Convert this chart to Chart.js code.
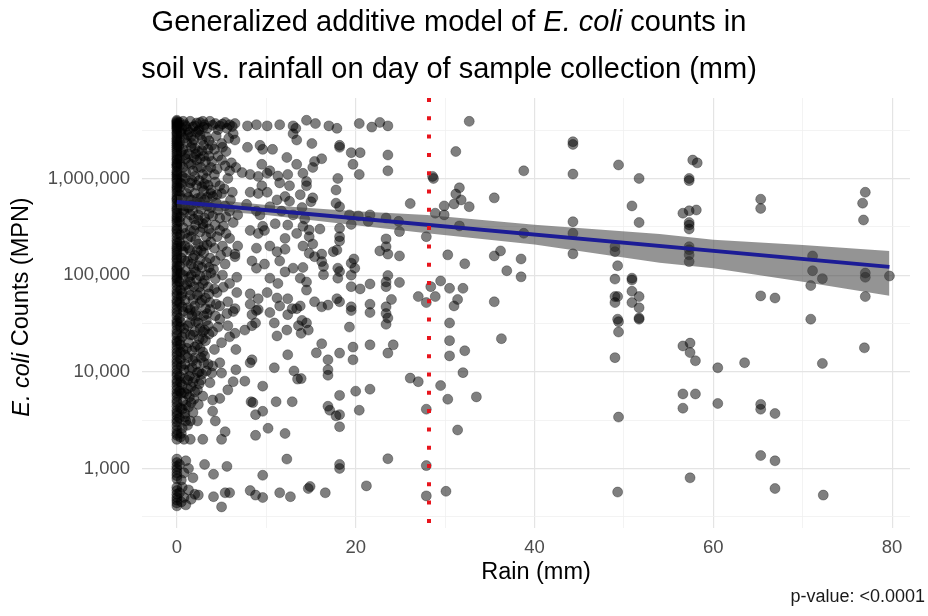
<!DOCTYPE html>
<html lang="en">
<head>
<meta charset="UTF-8">
<title>E. coli counts vs rainfall</title>
<script src="https://cdn.jsdelivr.net/npm/chart.js@4"></script>
<style>
  html, body { margin: 0; padding: 0; background: #fff; }
  #wrap { width: 928px; height: 616px; }
</style>
</head>
<body>
<div id="wrap"><canvas id="chart" width="928" height="616"></canvas></div>
<script>
// axis ticks
const xTicks = [0, 20, 40, 60, 80];
const xMinorTicks = [10, 30, 50, 70];
const yTicks = [1000, 10000, 100000, 1000000];
const yMinorTicks = [316, 3162, 31623, 316228, 3162278];

// rainfall threshold (dotted red line)
const rainThreshold = 28.2;

// fitted trend and its confidence band
const fitRain = [0, 79.7];
const fitCounts = [571000, 121700];
const bandRain = [0, 10, 20, 28, 40, 54, 60, 70, 79.7];
const bandUpper = [660000, 531000, 458000, 419000, 333000, 267000, 232000, 205000, 178000];
const bandLower = [495000, 418000, 328000, 271000, 207000, 134000, 118000, 85600, 61300];

// samples with no rain (E. coli MPN)
const dryDayCounts = [4.0e6, 3.9e6, 3.8e6, 3.7e6, 3.6e6, 3.5e6, 3.4e6, 3.3e6, 3.2e6, 3.0e6, 2.9e6, 2.75e6, 2.6e6, 2.5e6,
  2.4e6, 2.3e6, 2.2e6, 2.1e6, 2.0e6, 1.9e6, 1.8e6, 1.7e6, 1.6e6, 1.55e6, 1.45e6, 1.4e6, 1.35e6, 1.3e6, 1.2e6, 1.15e6,
  1.1e6, 1.06e6, 1.0e6, 960000, 900000, 840000, 800000, 760000, 710000, 660000, 620000, 600000, 560000, 520000, 490000,
  470000, 440000, 410000, 390000, 370000, 350000, 320000, 300000, 290000, 270000, 250000, 230000, 215000, 200000, 190000,
  180000, 170000, 160000, 150000, 144000, 134000, 124000, 118000, 113000, 105000, 98000, 93000, 89000, 83000, 77000,
  70000, 65000, 61000, 55000, 52000, 48000, 44000, 41000, 38000, 34000, 32000, 30000, 27000, 25000, 23500, 21000,
  20000, 18500, 17000, 15700, 14600, 13300, 12400, 11500, 10500, 9700, 9100, 8200, 7700, 7100, 6500, 6000, 5600, 5100,
  4800, 4400, 4000, 3750, 3500, 3200, 3000, 2750, 2500, 2300, 2200, 2000, 1250, 1150, 1050, 980, 900, 840, 780,
  640, 590, 540, 500, 470, 440, 410];

// [rain mm, MPN] for light rain days (0-15 mm)
const lightRainSamples = [
  [0.3,3.8e6],[0.9,3.6e6],[1.5,3.9e6],[2.0,3.5e6],[2.6,3.8e6],[3.1,3.6e6],[3.7,3.9e6],[4.3,3.7e6],[4.8,3.5e6],[5.4,3.8e6],
  [5.9,3.6e6],[6.5,3.7e6],[7.9,3.5e6],[8.9,3.6e6],[10.1,3.5e6],[11.5,3.6e6],[13.0,3.5e6],[13.3,3.3e6],
  [0.6,3.3e6],[1.2,3.2e6],[1.8,3.4e6],[2.4,3.1e6],[3.4,3.3e6],[4.6,3.2e6],[5.6,3.3e6],
  [0.4,3.0e6],[0.8,2.6e6],[1.2,2.8e6],[1.7,2.3e6],[2.2,3.0e6],[2.8,2.5e6],[3.3,2.7e6],[3.9,2.2e6],[5.0,2.3e6],[5.1,2.1e6],
  [6.3,2.9e6],[6.5,2.5e6],[7.9,2.1e6],[9.3,2.2e6],[9.6,2.0e6],[10.7,2.0e6],[13.4,2.5e6],[13.0,2.9e6],
  [0.5,1.9e6],[1.0,1.6e6],[1.6,1.4e6],[2.1,1.8e6],[2.7,1.3e6],[3.2,1.5e6],[3.6,1.7e6],[4.6,1.7e6],[5.4,1.35e6],[4.5,1.25e6],
  [5.9,1.2e6],[7.3,1.15e6],[8.2,1.1e6],[9.1,1.05e6],[10.1,1.13e6],[10.4,1.2e6],[11.3,1.06e6],[12.4,1.1e6],[9.5,1.4e6],
  [12.3,1.65e6],[13.4,1.4e6],
  [0.4,900000],[0.9,1.0e6],[1.4,800000],[2.0,700000],[2.5,950000],[3.0,750000],[3.5,850000],[4.0,650000],[4.8,840000],
  [5.7,1.0e6],[6.2,720000],[4.5,680000],[8.2,720000],[9.1,700000],[10.1,720000],[11.2,600000],[12.1,650000],[12.6,580000],
  [13.8,680000],[9.5,840000],[11.5,900000],[12.6,840000],
  [0.3,560000],[0.8,450000],[1.3,500000],[1.9,380000],[2.4,420000],[2.9,340000],[3.4,520000],[4.0,410000],[4.8,390000],
  [5.9,460000],[6.3,350000],[6.8,420000],[7.8,540000],[8.9,460000],[9.3,420000],[10.4,510000],[11.7,460000],[13.0,420000],
  [14.0,500000],[14.3,380000],[9.6,320000],[11.0,340000],[12.4,330000],[14.1,320000],
  [0.4,260000],[0.9,200000],[1.5,290000],[2.1,230000],[2.7,180000],[3.3,250000],[4.8,290000],[5.1,200000],[5.9,240000],
  [6.8,200000],[6.5,165000],[8.2,290000],[9.1,270000],[9.8,290000],[8.9,190000],[10.4,200000],[11.2,175000],[12.1,240000],
  [13.4,270000],[14.1,200000],[12.1,185000],
  [0.5,150000],[1.0,110000],[1.6,130000],[2.2,90000],[2.8,120000],[3.3,100000],[4.3,140000],[5.4,130000],[6.5,155000],
  [5.1,100000],[6.7,95000],[5.9,82000],[8.4,140000],[8.9,118000],[9.8,130000],[10.4,93000],[11.5,140000],[12.1,108000],
  [11.3,82000],[13.0,118000],[13.8,93000],[14.5,85000],
  [0.4,70000],[0.9,55000],[1.5,62000],[2.0,48000],[2.6,66000],[3.2,45000],[4.5,66000],[4.8,48000],[5.7,53000],[6.7,66000],
  [6.5,45000],[8.2,64000],[9.1,57000],[10.1,66000],[11.2,58000],[11.5,48000],[12.4,57000],[12.9,45000],[13.8,48000],
  [8.9,43000],[10.4,41000],
  [0.3,36000],[0.8,28000],[1.3,40000],[1.8,24000],[2.4,32000],[2.9,22000],[3.5,30000],[4.0,26000],[4.8,35000],[5.7,30000],
  [6.3,42000],[5.9,23000],[6.5,25000],[7.6,27000],[8.4,30000],[8.8,32000],[8.4,39000],[9.1,44000],[8.2,50000],[10.9,32000],
  [11.2,23500],[12.3,27000],[12.4,39000],[13.4,45000],[13.6,30000],[14.0,34000],
  [0.4,16000],[0.9,12000],[1.4,9000],[2.0,14000],[2.5,10000],[3.1,14600],[4.0,11500],[4.8,12400],[3.9,9700],[5.0,9700],
  [3.7,7700],[6.6,17000],[6.6,10500],[8.2,12400],[8.4,13300],[9.6,7100],[10.9,11000],[12.4,15000],[13.1,10200],[13.5,8400],
  [0.5,6000],[1.0,4500],[1.4,5500],[2.3,6500],[2.9,5600],[4.0,5100],[4.8,5300],[5.7,6500],[6.3,7900],[7.6,8000],[8.3,4900],
  [8.5,4800],[9.6,3900],[8.8,3600],[4.0,3900],[11.1,4900],[12.9,4900],
  [1.5,3100],[2.3,3100],[2.9,2000],[1.5,2000],[5.4,2400],[5.0,2000],[4.3,3100],[10.2,2600],[12.1,2300],[8.8,2200],
  [0.6,2600],[0.9,3400],[0.4,2100],
  [0.3,1100],[0.8,900],[1.3,1000],[1.8,800],[0.5,760],[3.1,1100],[4.1,870],[5.6,1050],[9.6,850],[12.3,1250],[1.0,1200],
  [0.3,560],[0.8,500],[1.3,600],[0.5,450],[1.0,420],[2.0,540],[2.4,530],[4.1,510],[5.4,560],[5.9,560],[5.0,400],[8.2,590],
  [8.8,530],[9.6,500],[11.5,560],[12.7,510],[14.7,620],[0.6,640],[1.6,480],
  [0.7,3.9e6],[2.9,3.9e6],[1.4,3.0e6],[2.6,2.8e6],[0.3,2.4e6],[1.9,2.5e6],[3.0,2.2e6],[0.7,2.0e6],[1.6,2.1e6],[2.4,1.9e6],
  [3.5,2.0e6],[0.3,1.6e6],[1.3,1.8e6],[2.2,1.55e6],[3.0,1.7e6],[0.7,1.3e6],[1.8,1.2e6],[2.9,1.1e6],[3.8,1.3e6],[0.6,1.05e6],
  [1.7,950000],[2.2,850000],[3.3,1.0e6],[0.3,800000],[1.1,700000],[2.7,640000],[3.8,760000],[0.6,620000],[1.6,600000],
  [2.2,560000],[3.1,600000],[0.9,520000],[1.8,460000],[2.7,480000],[3.6,430000],[0.4,400000],[1.2,360000],[2.1,330000],
  [3.1,390000],[0.7,310000],[1.9,290000],[2.6,280000],[3.6,300000],[0.3,220000],[1.2,240000],[2.4,210000],[3.0,200000],
  [3.8,220000],[0.7,175000],[1.5,180000],[2.0,160000],[3.0,170000],[3.7,150000],[0.3,125000],[1.2,140000],[2.6,145000],
  [1.9,118000],[3.6,120000],[0.7,100000],[1.4,95000],[2.6,98000],[3.8,105000],[0.3,85000],[1.1,80000],[1.9,76000],
  [2.9,82000],[3.5,75000],[0.6,65000],[1.4,70000],[2.3,62000],[3.2,58000],[0.3,52000],[1.2,46000],[2.6,52000],[3.7,52000],
  [0.7,42000],[1.7,38000],[2.1,42000],[3.0,38000],[0.4,33000],[1.5,32000],[2.6,28000],[3.3,34000],[0.9,25000],[2.0,26000],
  [2.9,26000],[0.3,21000],[1.3,20000],[2.3,19000],[3.2,21000],[0.7,17000],[1.7,16500],[2.6,17500],[0.4,13500],[1.2,14000],
  [2.2,12000],[3.0,12500],[0.8,10500],[1.7,11000],[2.8,9500],[0.3,9000],[1.2,8200],[2.0,8600],[0.6,7300],[1.6,7000],
  [2.5,7500],[0.3,6300],[1.1,5900],[1.9,5200],[0.7,5000],[1.3,4300],[0.4,4200],[0.9,3700],[0.3,3300],[1.2,2800],
  [0.2,3.65e6],[1.0,3.45e6],[2.2,3.75e6],[3.0,3.4e6],[4.0,3.55e6],[5.1,3.65e6],[6.2,3.45e6],
  [0.5,2.9e6],[1.6,2.7e6],[2.5,3.2e6],[3.6,2.45e6],[4.4,2.75e6],[5.8,2.6e6],
  [0.2,2.15e6],[1.1,2.35e6],[2.0,2.05e6],[2.8,1.95e6],[4.2,2.0e6],[5.5,1.9e6],
  [0.9,1.75e6],[1.9,1.65e6],[2.6,1.6e6],[3.9,1.5e6],[5.0,1.55e6],[6.1,1.45e6],
  [0.4,1.4e6],[1.3,1.45e6],[2.3,1.3e6],[3.4,1.2e6],[4.2,1.1e6],[6.6,1.3e6],
  [1.0,1.15e6],[2.0,1.05e6],[3.1,880000],[4.3,920000],[5.3,780000],
  [0.6,870000],[1.5,900000],[2.8,820000],[3.8,700000],[5.0,700000],[6.0,600000],
  [0.3,680000],[1.3,640000],[2.3,620000],[3.4,640000],[4.4,560000],[5.4,520000],
  [0.7,470000],[1.6,530000],[2.6,560000],[3.8,500000],[4.6,470000],[5.5,400000],
  [0.3,360000],[1.5,420000],[2.4,370000],[3.3,350000],[4.3,330000],[5.2,320000],
  [0.9,270000],[1.6,250000],[2.9,310000],[3.8,270000],[4.5,250000],[5.5,270000],
  [0.5,200000],[1.3,190000],[2.3,180000],[3.4,205000],[4.2,190000],[5.6,175000],
  [0.9,140000],[1.8,150000],[2.4,125000],[3.3,135000],[4.1,115000],[4.9,160000],
  [0.4,105000],[1.6,100000],[2.1,108000],[3.1,88000],[4.3,92000],[5.2,75000],
  [0.8,78000],[1.5,85000],[2.5,75000],[3.6,64000],[4.2,72000],
  [0.5,60000],[1.8,56000],[2.8,55000],[3.7,44000],[4.4,50000],[5.6,40000],
  [0.6,47000],[1.5,44000],[2.3,38000],[3.4,40000],[4.3,38000],
  [0.4,29000],[1.2,30000],[2.1,33000],[3.1,27000],[4.6,29000],
  [0.6,23000],[1.5,24000],[2.5,22000],[3.6,24500],[5.0,20000],
  [0.4,19000],[1.1,17500],[2.0,18000],[2.9,16000],[4.2,17000],
  [0.9,15000],[1.8,13000],[2.7,14000],[3.5,12000],
  [0.5,11500],[1.4,10500],[2.3,9800],[3.3,10200],
  [0.9,8500],[1.8,7800],[2.7,8200],[0.4,7800],
  [1.2,6700],[2.0,6200],[0.8,6100],[1.6,4800],[2.4,4600],[0.6,4100],[1.0,3100],[1.8,3800],[0.5,2300],[0.8,2000]
];

// [rain mm, MPN] for moderate rain days (14-25 mm)
const moderateRainSamples = [
  [14.5,4.0e6],[15.5,3.7e6],[17.0,3.5e6],[17.9,3.3e6],[20.4,3.7e6],[21.8,3.4e6],[22.7,3.8e6],[23.6,3.5e6],
  [15.1,2.3e6],[18.2,2.2e6],[18.2,2.1e6],[19.5,1.85e6],[20.5,1.85e6],[19.7,1.4e6],[20.4,1.1e6],[23.6,1.75e6],[23.6,1.2e6],
  [15.4,1.5e6],[15.2,1.3e6],[16.2,1.6e6],[14.1,1.13e6],[14.5,930000],[14.5,840000],[18.0,1.0e6],[17.8,760000],
  [15.2,630000],[15.0,575000],[17.8,555000],[18.2,510000],[19.3,420000],[20.3,410000],[21.6,420000],[23.4,390000],
  [24.8,360000],[21.4,360000],[19.5,335000],[18.2,305000],[23.4,237000],[14.8,293000],[16.0,300000],[14.8,250000],
  [18.2,250000],[18.2,226000],[15.2,210000],[14.8,168000],[15.4,155000],[16.2,165000],[17.9,182000],[17.5,175000],
  [22.7,178000],[23.4,197000],[23.6,165000],
  [19.8,147000],[19.5,133000],[19.9,118000],[19.5,100000],[16.2,138000],[16.4,123000],[16.4,101000],[18.0,118000],
  [18.0,93000],[18.2,109000],[14.1,120000],[21.6,81000],[23.4,85000],[23.4,76000],[23.6,99000],[19.5,76000],[20.5,72000],
  [14.5,70000],
  [15.4,53000],[16.2,47000],[16.9,49000],[17.9,57000],[18.2,53000],[19.5,47000],[19.5,43000],[21.6,50000],[21.6,41000],
  [23.4,47000],[23.4,40000],[23.4,31000],[23.6,36000],[24.0,56000],
  [14.5,32000],[13.9,25000],[14.7,27000],[19.3,29000],[16.2,19500],[15.6,15700],[16.9,13300],[18.2,15600],[19.7,18000],
  [19.7,13300],[21.6,19000],[23.6,15600],[24.2,19000],[16.9,10500],[16.9,9200],[13.9,8500],[18.2,5700],[20.0,6300],
  [21.6,6600],[16.9,4400],[17.1,4000],[18.2,3600],[17.8,3500],[18.2,2700],[20.4,4000],[23.6,1260],[18.2,1100],[18.2,1000],
  [14.9,650],[16.6,560],[21.2,660]
];

// [rain mm, MPN] for heavy rain days (25 mm and up)
const heavyRainSamples = [
  [24.9,282000],[27.9,250000],[24.9,158000],[24.9,84000],[27.0,60000],[27.9,52000],[28.9,60000],[28.4,76000],
  [32.7,3.9e6],[31.2,1.9e6],[28.6,1.05e6],[28.7,1.0e6],[31.6,800000],[31.2,690000],[31.8,600000],[29.9,520000],
  [31.0,545000],[32.7,510000],[26.1,550000],[28.9,437000],[29.9,420000],[35.5,630000],[38.8,1.2e6],[31.6,323000],
  [38.8,271000],
  [44.3,2.4e6],[44.3,2.25e6],[44.3,1.11e6],[44.3,357000],[44.3,271000],[44.3,166000],
  [49.4,1.38e6],[51.7,1.0e6],[50.9,520000],[51.7,350000],[49.0,197000],[49.0,175000],[49.3,125000],[49.0,91000],
  [50.9,93000],[50.9,89000],[49.0,60000],[49.3,60000],[50.9,68000],[50.9,52000],[51.7,60000],[49.0,52000],[51.7,46000],
  [49.3,35000],[49.4,33000],[51.7,36000],[51.7,35000],
  [30.3,162000],[32.2,131000],[35.5,158000],[36.2,178000],[38.5,147000],[36.9,111000],[38.5,96000],[29.5,87000],
  [30.5,73000],[32.0,73000],[31.4,56000],[31.0,48000],[35.5,53000],[30.5,32000],[30.5,21000],[30.5,14600],[32.2,16500],
  [36.3,22000],[32.0,9800],[26.1,8600],[27.0,7900],[29.5,7200],[30.3,5200],[33.5,5500],[27.9,4100],[31.4,2500],
  [27.9,1070],[27.9,520],[30.1,580],
  [49.4,25800],[49.0,14000],[49.4,3400],[49.3,570],
  [57.7,1.55e6],[58.2,1.45e6],[57.3,1.0e6],[57.3,950000],[56.6,437000],[57.3,463000],[58.1,472000],[57.3,350000],
  [57.3,330000],[57.3,300000],[57.3,197000],[57.3,183000],[57.3,162000],[57.3,138000],[65.3,610000],[65.3,490000],
  [65.3,61000],[66.9,58000],[71.1,158000],[71.1,111000],[72.2,92000],[70.9,78000],[70.9,35000],[77.0,720000],
  [76.7,555000],[76.8,372000],[77.0,105000],[77.0,95000],[79.7,98000],[77.0,60000],
  [56.6,18500],[57.4,19800],[57.4,15800],[58.0,13000],[60.5,11000],[63.5,12400],[72.2,12200],[76.9,17700],
  [56.6,5900],[58.0,5900],[56.6,4200],[60.5,4700],[65.3,4600],[65.3,4100],[66.9,3700],[65.3,1360],[66.9,1200],
  [57.4,800],[66.9,620],[72.3,530]
];

const FONT = "'Liberation Sans', Arial, Helvetica, sans-serif";
const X_MIN = -3.9, X_MAX = 82;
const Y_MIN = 242, Y_MAX = 6.8e6;

const titleLine1 = [['Generalized additive model of ', false], ['E. coli', true], [' counts in', false]];
const titleLine2 = [['soil vs. rainfall on day of sample collection (mm)', false]];
const yTitle = [['E. coli', true], [' Counts (MPN)', false]];
const xTitle = [['Rain (mm)', false]];
const caption = 'p-value: <0.0001';

const toPoints = pairs => pairs.map(([x, y]) => ({ x, y }));
const samples = [
  ...dryDayCounts.map(c => ({ x: 0, y: c })),
  ...toPoints(lightRainSamples),
  ...toPoints(moderateRainSamples),
  ...toPoints(heavyRainSamples)
];

function drawRuns(ctx, runs, cx, cy, size) {
  let total = 0;
  const widths = runs.map(([t, it]) => {
    ctx.font = (it ? 'italic ' : '') + size + 'px ' + FONT;
    const w = ctx.measureText(t).width;
    total += w;
    return w;
  });
  let x = cx - total / 2;
  runs.forEach(([t, it], i) => {
    ctx.font = (it ? 'italic ' : '') + size + 'px ' + FONT;
    ctx.fillText(t, x, cy);
    x += widths[i];
  });
}

const textLayer = {
  id: 'textLayer',
  afterDraw(chart) {
    const ctx = chart.ctx;
    ctx.save();
    ctx.fillStyle = '#000';
    ctx.textAlign = 'left';
    ctx.textBaseline = 'middle';
    drawRuns(ctx, titleLine1, 449, 23, 29);
    drawRuns(ctx, titleLine2, 449, 70, 29);
    drawRuns(ctx, xTitle, 536, 573, 23.5);
    ctx.font = '18px ' + FONT;
    ctx.textAlign = 'right';
    ctx.fillStyle = '#1a1a1a';
    ctx.fillText(caption, 925, 597);
    ctx.textAlign = 'left';
    ctx.fillStyle = '#000';
    ctx.translate(22, 307);
    ctx.rotate(-Math.PI / 2);
    drawRuns(ctx, yTitle, 0, 0, 23.5);
    ctx.restore();
  }
};

const gridColor = (majors) => (c) => majors.includes(c.tick && c.tick.value) ? '#e4e4e4' : '#f0f0f0';

new Chart(document.getElementById('chart'), {
  type: 'scatter',
  data: {
    datasets: [
      {
        type: 'line',
        data: [{ x: rainThreshold, y: Y_MAX }, { x: rainThreshold, y: Y_MIN }],
        borderColor: '#e8141c',
        borderWidth: 4,
        borderDash: [4, 14.3],
        borderCapStyle: 'butt',
        pointRadius: 0,
        fill: false,
        order: 0
      },
      {
        type: 'line',
        data: fitRain.map((x, i) => ({ x, y: fitCounts[i] })),
        borderColor: '#1c1c96',
        borderWidth: 4,
        pointRadius: 0,
        fill: false,
        order: 1
      },
      {
        type: 'line',
        data: bandRain.map((x, i) => ({ x, y: bandUpper[i] })),
        borderColor: 'transparent',
        borderWidth: 0,
        pointRadius: 0,
        backgroundColor: 'rgba(60,60,60,0.55)',
        fill: '+1',
        order: 2
      },
      {
        type: 'line',
        data: bandRain.map((x, i) => ({ x, y: bandLower[i] })),
        borderColor: 'transparent',
        borderWidth: 0,
        pointRadius: 0,
        fill: false,
        order: 3
      },
      {
        data: samples,
        pointRadius: 5,
        backgroundColor: 'rgba(0,0,0,0.5)',
        borderColor: 'rgba(0,0,0,0.3)',
        borderWidth: 1,
        order: 4
      }
    ]
  },
  options: {
    responsive: false,
    animation: false,
    events: [],
    layout: { padding: { top: 98, right: 18, left: 0, bottom: 0 } },
    plugins: { legend: { display: false }, tooltip: { enabled: false } },
    scales: {
      x: {
        type: 'linear',
        min: X_MIN,
        max: X_MAX,
        afterBuildTicks: s => { s.ticks = [...xTicks, ...xMinorTicks].sort((a, b) => a - b).map(v => ({ value: v })); },
        afterFit: s => { s.height = 88; },
        border: { display: false },
        grid: {
          drawTicks: false,
          color: gridColor(xTicks),
          lineWidth: c => xTicks.includes(c.tick && c.tick.value) ? 1.2 : 0.8
        },
        ticks: {
          autoSkip: false,
          maxRotation: 0,
          padding: 9,
          color: '#4d4d4d',
          font: { family: FONT, size: 18.5 },
          callback: v => xTicks.includes(v) ? String(v) : ''
        }
      },
      y: {
        type: 'logarithmic',
        min: Y_MIN,
        max: Y_MAX,
        afterBuildTicks: s => { s.ticks = [...yMinorTicks, ...yTicks].sort((a, b) => a - b).map(v => ({ value: v })); },
        afterFit: s => { s.width = 142; },
        border: { display: false },
        grid: {
          drawTicks: false,
          color: gridColor(yTicks),
          lineWidth: c => yTicks.includes(c.tick && c.tick.value) ? 1.2 : 0.8
        },
        ticks: {
          autoSkip: false,
          padding: 12,
          color: '#4d4d4d',
          font: { family: FONT, size: 18.5 },
          callback: v => yTicks.includes(v) ? v.toLocaleString('en-US') : ''
        }
      }
    }
  },
  plugins: [textLayer]
});
</script>
</body>
</html>
